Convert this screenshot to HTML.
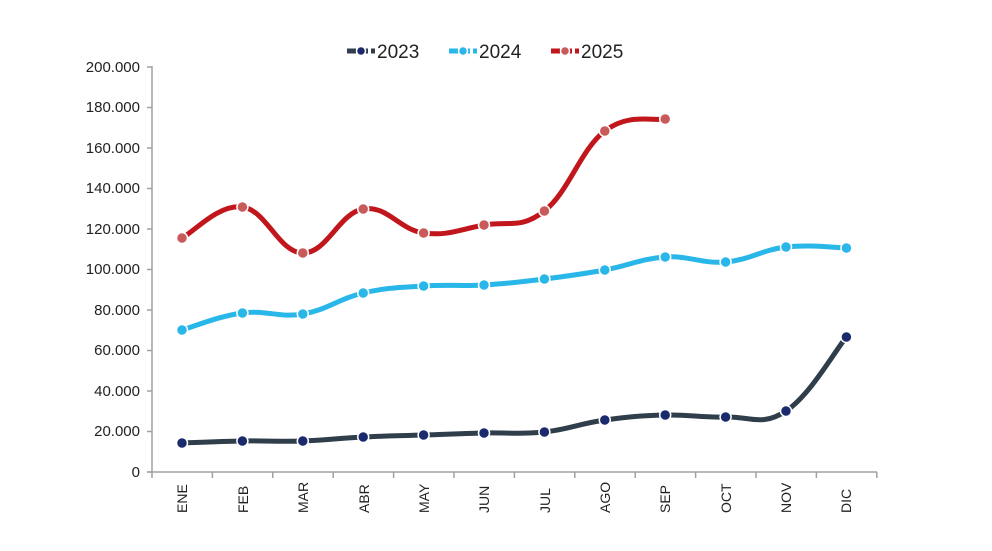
<!DOCTYPE html>
<html><head><meta charset="utf-8"><style>
html,body{margin:0;padding:0;background:#fff;}
svg{display:block;font-family:"Liberation Sans",Arial,sans-serif;}
</style></head><body>
<svg id="s" width="992" height="551" viewBox="0 0 992 551" xmlns="http://www.w3.org/2000/svg">
<g stroke="#a0a0a0" stroke-width="1.5" fill="none">
<line x1="152" y1="66" x2="152" y2="472"/>
<line x1="147" y1="472" x2="877" y2="472"/>
</g>
<g id="ticks" stroke="#a0a0a0" stroke-width="1.5"></g>
<g font-size="15" fill="#222" text-anchor="end">
<text x="140" y="72">200.000</text>
<text x="140" y="112">180.000</text>
<text x="140" y="153">160.000</text>
<text x="140" y="193">140.000</text>
<text x="140" y="234">120.000</text>
<text x="140" y="274">100.000</text>
<text x="140" y="315">80.000</text>
<text x="140" y="355">60.000</text>
<text x="140" y="396">40.000</text>
<text x="140" y="436">20.000</text>
<text x="140" y="477">0</text>
</g>
<g font-size="14" fill="#222" text-anchor="start">
<text transform="translate(187,513) rotate(-90)">ENE</text>
<text transform="translate(248,513) rotate(-90)">FEB</text>
<text transform="translate(308,513) rotate(-90)">MAR</text>
<text transform="translate(369,513) rotate(-90)">ABR</text>
<text transform="translate(429,513) rotate(-90)">MAY</text>
<text transform="translate(489,513) rotate(-90)">JUN</text>
<text transform="translate(550,513) rotate(-90)">JUL</text>
<text transform="translate(610,513) rotate(-90)">AGO</text>
<text transform="translate(670,513) rotate(-90)">SEP</text>
<text transform="translate(731,513) rotate(-90)">OCT</text>
<text transform="translate(791,513) rotate(-90)">NOV</text>
<text transform="translate(851,513) rotate(-90)">DIC</text>
</g>
<g id="series"></g>
<g font-size="19" fill="#222">
<line x1="347" y1="51" x2="375" y2="51" stroke="#2f3e4a" stroke-width="5" stroke-dasharray="9,3"/>
<circle cx="361" cy="51" r="4.5" fill="#1a2a6c" stroke="#fff" stroke-width="1.5"/>
<text x="377" y="58">2023</text>
<line x1="449" y1="51" x2="477" y2="51" stroke="#29b6e8" stroke-width="5" stroke-dasharray="9,3"/>
<circle cx="463" cy="51" r="4.5" fill="#29b6e8" stroke="#fff" stroke-width="1.5"/>
<text x="479" y="58">2024</text>
<line x1="551" y1="51" x2="579" y2="51" stroke="#c0161c" stroke-width="5" stroke-dasharray="9,3"/>
<circle cx="565" cy="51" r="4.5" fill="#c95a5a" stroke="#fff" stroke-width="1.5"/>
<text x="581" y="58">2025</text>
</g>
</svg>
<script>
var NS="http://www.w3.org/2000/svg";
var t=document.getElementById('ticks');
for(var k=0;k<=12;k++){var x=152+60.4*k;var l=document.createElementNS(NS,'line');l.setAttribute('x1',x);l.setAttribute('x2',x);l.setAttribute('y1',472);l.setAttribute('y2',478);t.appendChild(l);}
for(var k=0;k<=10;k++){var y=472-40.5*k;var l=document.createElementNS(NS,'line');l.setAttribute('x1',147);l.setAttribute('x2',152);l.setAttribute('y1',y);l.setAttribute('y2',y);t.appendChild(l);}
var data=[
 {c:"#2f3e4a",m:"#1a2a6c",y:[443,441,441,437,435,433,432,420,415,417,411,337]},
 {c:"#29b6e8",m:"#29b6e8",y:[330,313,314,293,286,285,279,270,257,262,247,248]},
 {c:"#c0161c",m:"#c95a5a",y:[238,207,253,209,233,225,211,131,119]}
];
var g=document.getElementById('series');
data.forEach(function(s){
 var p=s.y.map(function(v,i){return [182+60.4*i,v];});
 var d="M"+p[0][0]+","+p[0][1];
 for(var i=0;i<p.length-1;i++){
  var p0=p[i-1]||p[i],p1=p[i],p2=p[i+1],p3=p[i+2]||p2,tt=0.2;
  var c1=[p1[0]+(p2[0]-p0[0])*tt,p1[1]+(p2[1]-p0[1])*tt];
  var c2=[p2[0]-(p3[0]-p1[0])*tt,p2[1]-(p3[1]-p1[1])*tt];
  d+=" C"+c1[0]+","+c1[1]+" "+c2[0]+","+c2[1]+" "+p2[0]+","+p2[1];
 }
 var path=document.createElementNS(NS,'path');
 path.setAttribute('d',d);path.setAttribute('fill','none');path.setAttribute('stroke',s.c);path.setAttribute('stroke-width','5');path.setAttribute('stroke-linecap','round');
 g.appendChild(path);
 p.forEach(function(q){var c=document.createElementNS(NS,'circle');c.setAttribute('cx',q[0]);c.setAttribute('cy',q[1]);c.setAttribute('r','5.5');c.setAttribute('fill',s.m);c.setAttribute('stroke','#fff');c.setAttribute('stroke-width','1.5');g.appendChild(c);});
});
</script>
</body></html>
